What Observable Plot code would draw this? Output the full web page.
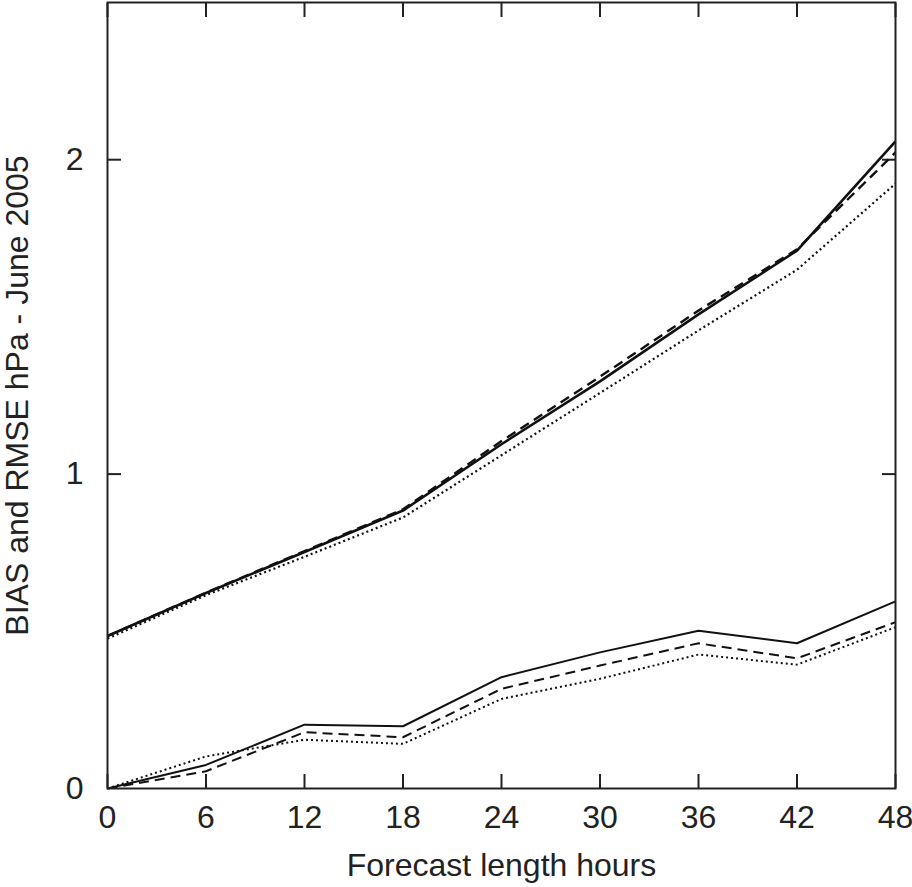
<!DOCTYPE html>
<html>
<head>
<meta charset="utf-8">
<script src="https://cdn.jsdelivr.net/npm/d3@7"></script>
<script src="https://cdn.jsdelivr.net/npm/@observablehq/plot@0.6"></script>
<style>
  html, body { margin: 0; padding: 0; background: #fff; }
  #chart svg { display: block; }
</style>
</head>
<body>
<div id="chart"></div>
<script>
// Forecast length (hours)
const hours = [0, 6, 12, 18, 24, 30, 36, 42, 48];

// Upper group (RMSE)
const rmseSolid  = [0.485, 0.622, 0.752, 0.884, 1.095, 1.295, 1.508, 1.711, 2.058];
const rmseDashed = [0.485, 0.623, 0.755, 0.888, 1.105, 1.310, 1.520, 1.715, 2.023];
const rmseDotted = [0.477, 0.615, 0.737, 0.862, 1.060, 1.258, 1.457, 1.650, 1.924];

// Lower group (BIAS)
const biasSolid  = [0.000, 0.075, 0.203, 0.198, 0.354, 0.433, 0.502, 0.462, 0.595];
const biasDashed = [0.000, 0.055, 0.179, 0.163, 0.317, 0.391, 0.462, 0.414, 0.529];
const biasDotted = [0.000, 0.102, 0.155, 0.142, 0.285, 0.349, 0.426, 0.394, 0.513];

// Tick labels
const xTicks = [0, 6, 12, 18, 24, 30, 36, 42, 48];
const yTicks = [0, 1, 2];
const yInnerTicks = [1, 2];

const xLabel = "Forecast length hours";
const yLabel = "BIAS and RMSE hPa - June 2005";

const toRows = (vals) => hours.map((h, i) => ({h, v: vals[i]}));

const ink = "#222";
const font = "'Liberation Sans', Arial, Helvetica, sans-serif";

const series = [
  {vals: rmseSolid,  dash: null,   w: 2.6},
  {vals: rmseDashed, dash: "10,6", w: 2.4},
  {vals: rmseDotted, dash: "2,3",  w: 2.2},
  {vals: biasSolid,  dash: null,   w: 2.0},
  {vals: biasDashed, dash: "10,6", w: 2.0},
  {vals: biasDotted, dash: "2,3",  w: 2.0}
];

const chart = Plot.plot({
  width: 912,
  height: 887,
  marginTop: 2,
  marginRight: 17,
  marginBottom: 99,
  marginLeft: 107,
  style: {fontFamily: font, fontSize: "32px", color: ink, background: "#fff"},
  x: {domain: [0, 48]},
  y: {domain: [0, 2.5]},
  marks: [
    // inward ticks on all four sides
    Plot.axisX(xTicks, {anchor: "bottom", tickSize: -14, tickFormat: () => "", label: null, stroke: ink, strokeWidth: 2}),
    Plot.axisX(xTicks, {anchor: "top", tickSize: -14, tickFormat: () => "", label: null, stroke: ink, strokeWidth: 2}),
    Plot.axisY(yInnerTicks, {anchor: "left", tickSize: -14, tickFormat: () => "", label: null, stroke: ink, strokeWidth: 2}),
    Plot.axisY(yInnerTicks, {anchor: "right", tickSize: -14, tickFormat: () => "", label: null, stroke: ink, strokeWidth: 2}),
    // tick labels and titles
    Plot.axisX(xTicks, {
      anchor: "bottom", tickSize: 0, tickPadding: 17, fontSize: 32, fill: ink,
      tickFormat: d3.format("d"),
      label: xLabel, labelAnchor: "center", labelArrow: "none", labelOffset: 87
    }),
    Plot.axisY(yTicks, {
      anchor: "left", tickSize: 0, tickPadding: 24, fontSize: 32, fill: ink,
      tickFormat: d3.format("d"),
      label: yLabel, labelAnchor: "center", labelArrow: "none", labelOffset: 102
    }),
    ...series.map(s => Plot.line(toRows(s.vals), {
      x: "h", y: "v", stroke: "#111", strokeWidth: s.w,
      strokeDasharray: s.dash, strokeLinejoin: "miter", strokeLinecap: "butt"
    })),
    Plot.frame({stroke: ink, strokeWidth: 2})
  ]
});

document.getElementById("chart").appendChild(chart);
</script>
</body>
</html>
